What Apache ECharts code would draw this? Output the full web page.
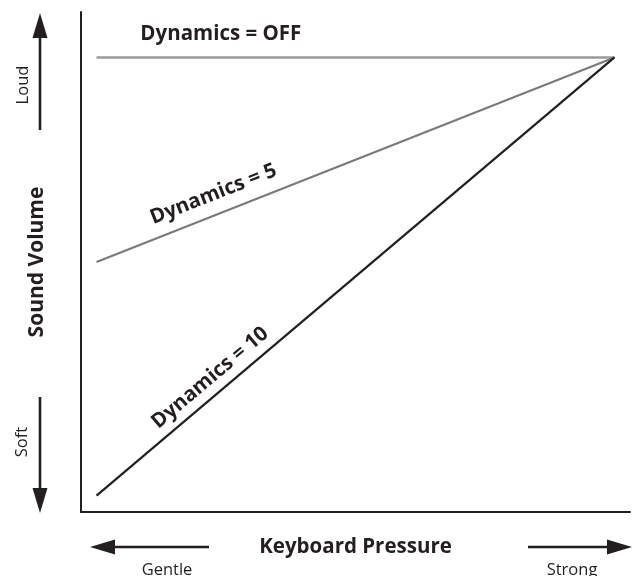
<!DOCTYPE html>
<html>
<head>
<meta charset="utf-8">
<script src="https://cdn.jsdelivr.net/npm/echarts@6/dist/echarts.min.js"></script>
<style>
  html, body { margin: 0; padding: 0; background: #fff; }
  #chart { width: 632px; height: 576px; }
</style>
</head>
<body>
<div id="chart"></div>
<script>
// Keyboard pressure (gentle -> strong) at the two ends of each response curve
const pressure = [0, 100];
// Sound volume reached at those pressures for each dynamics setting
const volumeOff = [100, 100];
const volume5 = [55, 100];
const volume10 = [3.6, 100];
const seriesNames = ['Dynamics = OFF', 'Dynamics = 5', 'Dynamics = 10'];
const seriesColors = ['#9a9a9a', '#7a7a7a', '#231f20'];
const seriesWidths = [2.5, 2.2, 2.2];
const labelPressure = 24;            // where along each curve its name sits
const labelOffsets = [23, 20, 16.5]; // distance of each name above its curve, px

const INK = '#231f20';
const FONT = '"Open Sans", "Noto Sans", sans-serif';

const volumes = [volumeOff, volume5, volume10];
const chart = echarts.init(document.getElementById('chart'), null, { renderer: 'canvas' });

const option = {
  animation: false,
  backgroundColor: '#ffffff',
  grid: { left: 81, right: 2, top: 12, bottom: 64 },
  xAxis: {
    type: 'value', min: -3, max: 103,
    name: 'Keyboard Pressure', nameLocation: 'middle', nameGap: 25,
    nameTextStyle: { color: INK, fontFamily: FONT, fontWeight: 'bold', fontSize: 20.5 },
    axisLine: { show: true, onZero: false, lineStyle: { color: INK, width: 2 } },
    axisTick: { show: false }, axisLabel: { show: false }, splitLine: { show: false }
  },
  yAxis: {
    type: 'value', min: 0, max: 110,
    name: 'Sound Volume', nameLocation: 'middle', nameGap: 33,
    nameTextStyle: { color: INK, fontFamily: FONT, fontWeight: 'bold', fontSize: 21 },
    axisLine: { show: true, onZero: false, lineStyle: { color: INK, width: 2 } },
    axisTick: { show: false }, axisLabel: { show: false }, splitLine: { show: false }
  },
  series: volumes.map((v, i) => ({
    name: seriesNames[i],
    type: 'line',
    symbol: 'none',
    silent: true,
    lineStyle: { color: seriesColors[i], width: seriesWidths[i] },
    data: pressure.map((p, k) => [p, v[k]])
  }))
};
chart.setOption(option);

// Direction arrows and their captions beside the axes
function arrow(x1, y1, x2, y2) {
  const dx = x2 - x1, dy = y2 - y1;
  const len = Math.hypot(dx, dy);
  const ux = dx / len, uy = dy / len;
  const headLen = 25, headHalf = 7.5;
  const bx = x2 - ux * headLen, by = y2 - uy * headLen;
  return [
    { type: 'line', silent: true,
      shape: { x1: x1, y1: y1, x2: bx + ux * 2, y2: by + uy * 2 },
      style: { stroke: INK, lineWidth: 2.6 } },
    { type: 'polygon', silent: true,
      shape: { points: [[x2, y2], [bx - uy * headHalf, by + ux * headHalf], [bx + uy * headHalf, by - ux * headHalf]] },
      style: { fill: INK } }
  ];
}
function caption(text, x, y, rotation) {
  return { type: 'text', silent: true, x: x, y: y, rotation: rotation || 0,
    style: { text: text, fill: INK, font: '16.5px ' + FONT, textAlign: 'center', textVerticalAlign: 'middle' } };
}

// Curve names laid along each line
const curveLabels = volumes.map((v, i) => {
  const a = chart.convertToPixel({ gridIndex: 0 }, [pressure[0], v[0]]);
  const b = chart.convertToPixel({ gridIndex: 0 }, [pressure[1], v[1]]);
  const t = (labelPressure - pressure[0]) / (pressure[1] - pressure[0]);
  const px = a[0] + (b[0] - a[0]) * t, py = a[1] + (b[1] - a[1]) * t;
  const ang = Math.atan2(-(b[1] - a[1]), b[0] - a[0]);
  const nx = -Math.sin(ang), ny = -Math.cos(ang);
  return { type: 'text', silent: true,
    x: px + nx * labelOffsets[i], y: py + ny * labelOffsets[i], rotation: ang,
    style: { text: seriesNames[i], fill: INK, font: 'bold 20.5px ' + FONT,
      textAlign: 'center', textVerticalAlign: 'middle' } };
});

chart.setOption({
  graphic: [].concat(
    arrow(40, 130, 40, 13), caption('Loud', 23, 85, Math.PI / 2),
    arrow(40, 397, 40, 513), caption('Soft', 22, 442, Math.PI / 2),
    arrow(209, 547, 90, 547), caption('Gentle', 167, 570),
    arrow(528, 547, 632, 547), caption('Strong', 572, 570),
    curveLabels
  )
});
</script>
</body>
</html>
